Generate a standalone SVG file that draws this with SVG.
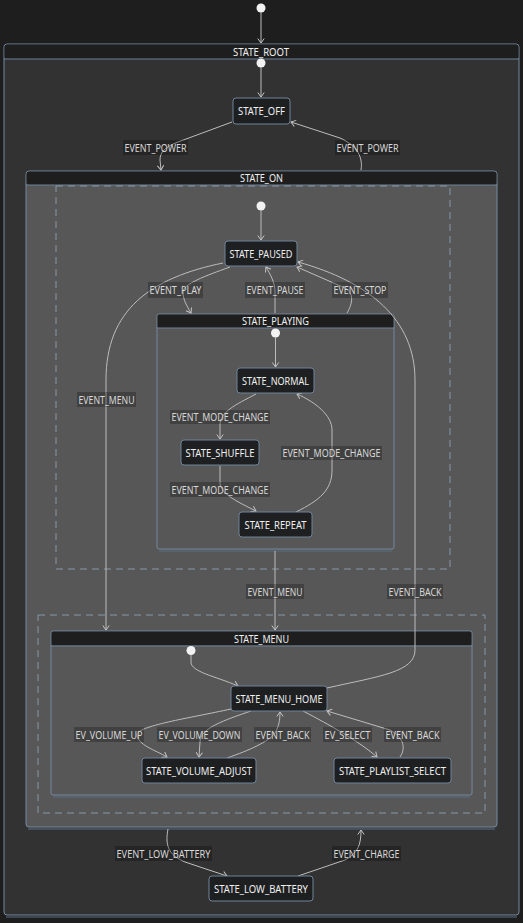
<svg xmlns="http://www.w3.org/2000/svg" width="523" height="923" viewBox="0 0 523 923">
<defs>
<style>
.bg{fill:#1e1e1e}
.cbody{stroke:#7489a0;stroke-width:1}
.root{fill:#323232}
.inner{fill:#575757}
.hdr{fill:#1e1e1e}
.hline{stroke:#6d8299;stroke-width:1}
.shadow{stroke:#5a6e84;stroke-width:1;fill:none}
.region{fill:none;stroke:#8797a8;stroke-width:1;stroke-dasharray:7,5}
.node{fill:#1e1f21;stroke:#6f8499;stroke-width:1}
.t{font-family:"Noto Sans","Open Sans","DejaVu Sans",sans-serif;font-size:10px;text-anchor:middle;dominant-baseline:central}
.nt{fill:#f0f0f0}
.lt{fill:#d8d8d8}
.lb{fill:#000;fill-opacity:0.25}
.e{fill:none;stroke:#bdbdbd;stroke-width:1}
.e2{fill:none;stroke:#bdbdbd;stroke-width:1;marker-end:url(#arr)}
.dot{fill:#f2f2f2}
</style>
<marker id="arr" viewBox="-5 -4 6 8" refX="0" refY="0" markerWidth="6" markerHeight="8" markerUnits="userSpaceOnUse" orient="auto">
<path d="M-4.5,-3.2 L0,0 L-4.5,3.2" fill="none" stroke="#c4c4c4" stroke-width="1"/>
</marker>
</defs>
<rect class="bg" x="0" y="0" width="523" height="923"/>

<g id="STATE_ROOT">
<rect class="root cbody" x="4" y="44" width="515" height="871" rx="3"/>
<line class="shadow" x1="6" y1="917" x2="517" y2="917"/>
<rect class="hdr" x="4.5" y="44.5" width="514" height="14.5" rx="2.5"/>
<line class="hline" x1="4" y1="59" x2="519" y2="59"/>
<text class="t nt" x="261" y="51.5" textLength="56" lengthAdjust="spacingAndGlyphs">STATE_ROOT</text>
</g>

<g id="STATE_ON">
<rect class="inner cbody" x="26" y="171" width="471" height="656" rx="3"/>
<line class="shadow" x1="28" y1="829" x2="495" y2="829"/>
<rect class="hdr" x="26.5" y="171.5" width="470" height="13.5" rx="2.5"/>
<line class="hline" x1="26" y1="185" x2="497" y2="185"/>
<text class="t nt" x="261.5" y="178" textLength="43" lengthAdjust="spacingAndGlyphs">STATE_ON</text>
</g>

<g id="REGION_1">
<rect class="region" x="56" y="186" width="394" height="383"/>
</g>
<g id="REGION_2">
<rect class="region" x="38" y="615" width="447" height="198"/>
</g>

<g id="STATE_PLAYING">
<rect class="inner cbody" x="157" y="314" width="237" height="235" rx="2"/>
<line class="shadow" x1="159" y1="551" x2="392" y2="551"/>
<rect class="hdr" x="157.5" y="314.5" width="236" height="13.5" rx="1.5"/>
<line class="hline" x1="157" y1="328" x2="394" y2="328"/>
<text class="t nt" x="275.5" y="321" textLength="67" lengthAdjust="spacingAndGlyphs">STATE_PLAYING</text>
</g>

<g id="STATE_MENU">
<rect class="inner cbody" x="51" y="631" width="421" height="164" rx="2"/>
<line class="shadow" x1="53" y1="797" x2="470" y2="797"/>
<rect class="hdr" x="51.5" y="631.5" width="420" height="14" rx="1.5"/>
<line class="hline" x1="51" y1="646" x2="472" y2="646"/>
<text class="t nt" x="261.5" y="638.5" textLength="55" lengthAdjust="spacingAndGlyphs">STATE_MENU</text>
</g>

<g id="connectors">
<circle class="dot" cx="261" cy="8" r="4.5"/>
<path class="e2" d="M261,12 L261,43"/>
<circle class="dot" cx="261" cy="63" r="4.5"/>
<path class="e2" d="M261,67 L261,97"/>
<path class="e2" d="M232,122 L178,142 C165,147 160,152 160,160 L161,170"/>
<path class="e2" d="M361,170 C363,158 358,146 340,138 L291,122"/>
<circle class="dot" cx="261" cy="206" r="4.5"/>
<path class="e2" d="M261,210 L261,240"/>
<path class="e2" d="M230,267 C205,276 183,284 183,292 C183,300 187,306 191,313"/>
<path class="e2" d="M275,313 L275,292 C275,282 270,274 266,267"/>
<path class="e2" d="M347,313 C353,303 354,293 345,288 L297,267"/>
<path class="e2" d="M223,263 C150,278 106,310 106,380 L106,630"/>
<path class="e2" d="M327,688 C380,676 415,672 415,650 L415,380 C415,320 370,282 298,262"/>
<path class="e2" d="M275,551 L275,630"/>
<circle class="dot" cx="275.5" cy="333" r="4.5"/>
<path class="e2" d="M275.5,337 L275.5,367"/>
<path class="e2" d="M256,394 C235,405 220,412 220,425 L220,439"/>
<path class="e2" d="M220,466 L220,484 C222,495 240,503 256,511"/>
<path class="e2" d="M296,512 C320,500 332,490 332,470 L332,430 C332,415 315,402 297,394"/>
<circle class="dot" cx="191" cy="650.5" r="4.5"/>
<path class="e2" d="M191,655 L191,662 C191,672 215,676 238,686"/>
<path class="e2" d="M231,709 C190,718 136,726 137,735 C138,745 155,750 167,757"/>
<path class="e2" d="M251,711 C225,720 200,728 200,742 L199,757"/>
<path class="e2" d="M227,758 C250,750 268,742 275,733 C279,726 280,720 280,712"/>
<path class="e2" d="M303,711 C330,725 360,742 377,757"/>
<path class="e2" d="M400,757 C406,748 404,738 390,730 L327,711"/>
<path class="e2" d="M168,829 C165,845 168,855 185,862 L227,876"/>
<path class="e2" d="M298,876 L345,860 C358,853 361,845 361,830"/>

<rect class="lb" x="123" y="140" width="65" height="15"/>
<text class="t lt" x="155.5" y="147.5" textLength="62" lengthAdjust="spacingAndGlyphs">EVENT_POWER</text>
<rect class="lb" x="335" y="140" width="65" height="15"/>
<text class="t lt" x="367.5" y="147.5" textLength="62" lengthAdjust="spacingAndGlyphs">EVENT_POWER</text>
<rect class="lb" x="148" y="282" width="55" height="16"/>
<text class="t lt" x="175.5" y="290" textLength="52" lengthAdjust="spacingAndGlyphs">EVENT_PLAY</text>
<rect class="lb" x="245" y="282" width="60" height="16"/>
<text class="t lt" x="275" y="290" textLength="57" lengthAdjust="spacingAndGlyphs">EVENT_PAUSE</text>
<rect class="lb" x="332" y="282" width="56" height="16"/>
<text class="t lt" x="360" y="290" textLength="53" lengthAdjust="spacingAndGlyphs">EVENT_STOP</text>
<rect class="lb" x="77" y="392" width="59" height="15"/>
<text class="t lt" x="106.5" y="399.5" textLength="56" lengthAdjust="spacingAndGlyphs">EVENT_MENU</text>
<rect class="lb" x="170" y="410" width="100" height="14"/>
<text class="t lt" x="220" y="417" textLength="97" lengthAdjust="spacingAndGlyphs">EVENT_MODE_CHANGE</text>
<rect class="lb" x="281" y="446" width="101" height="14"/>
<text class="t lt" x="331.5" y="453" textLength="98" lengthAdjust="spacingAndGlyphs">EVENT_MODE_CHANGE</text>
<rect class="lb" x="170" y="482" width="100" height="15"/>
<text class="t lt" x="220" y="489.5" textLength="97" lengthAdjust="spacingAndGlyphs">EVENT_MODE_CHANGE</text>
<rect class="lb" x="246" y="584" width="58" height="15"/>
<text class="t lt" x="275" y="591.5" textLength="55" lengthAdjust="spacingAndGlyphs">EVENT_MENU</text>
<rect class="lb" x="387" y="584" width="56" height="15"/>
<text class="t lt" x="415" y="591.5" textLength="53" lengthAdjust="spacingAndGlyphs">EVENT_BACK</text>
<rect class="lb" x="74" y="727" width="70" height="15"/>
<text class="t lt" x="109" y="734.5" textLength="67" lengthAdjust="spacingAndGlyphs">EV_VOLUME_UP</text>
<rect class="lb" x="157" y="727" width="85" height="15"/>
<text class="t lt" x="199.5" y="734.5" textLength="82" lengthAdjust="spacingAndGlyphs">EV_VOLUME_DOWN</text>
<rect class="lb" x="254" y="727" width="57" height="15"/>
<text class="t lt" x="282.5" y="734.5" textLength="54" lengthAdjust="spacingAndGlyphs">EVENT_BACK</text>
<rect class="lb" x="323" y="727" width="49" height="15"/>
<text class="t lt" x="347.5" y="734.5" textLength="46" lengthAdjust="spacingAndGlyphs">EV_SELECT</text>
<rect class="lb" x="384" y="727" width="57" height="15"/>
<text class="t lt" x="412.5" y="734.5" textLength="54" lengthAdjust="spacingAndGlyphs">EVENT_BACK</text>
<rect class="lb" x="115" y="846" width="97" height="15"/>
<text class="t lt" x="163.5" y="853.5" textLength="94" lengthAdjust="spacingAndGlyphs">EVENT_LOW_BATTERY</text>
<rect class="lb" x="332" y="846" width="69" height="15"/>
<text class="t lt" x="366.5" y="853.5" textLength="66" lengthAdjust="spacingAndGlyphs">EVENT_CHARGE</text>
</g>

<g id="STATE_OFF">
<rect class="node" x="233" y="98" width="57" height="26" rx="3"/>
<text class="t nt" x="261.5" y="111" textLength="47" lengthAdjust="spacingAndGlyphs">STATE_OFF</text>
</g>
<g id="STATE_PAUSED">
<rect class="node" x="225" y="241" width="72" height="25" rx="3"/>
<text class="t nt" x="261" y="253.5" textLength="63" lengthAdjust="spacingAndGlyphs">STATE_PAUSED</text>
</g>
<g id="STATE_NORMAL">
<rect class="node" x="237" y="368" width="77" height="25" rx="3"/>
<text class="t nt" x="275.5" y="380.5" textLength="67" lengthAdjust="spacingAndGlyphs">STATE_NORMAL</text>
</g>
<g id="STATE_SHUFFLE">
<rect class="node" x="181" y="440" width="78" height="25" rx="3"/>
<text class="t nt" x="220" y="452.5" textLength="69" lengthAdjust="spacingAndGlyphs">STATE_SHUFFLE</text>
</g>
<g id="STATE_REPEAT">
<rect class="node" x="239" y="512" width="73" height="25" rx="3"/>
<text class="t nt" x="275.5" y="524.5" textLength="62" lengthAdjust="spacingAndGlyphs">STATE_REPEAT</text>
</g>
<g id="STATE_MENU_HOME">
<rect class="node" x="231" y="686" width="96" height="25" rx="3"/>
<text class="t nt" x="279" y="698.5" textLength="87" lengthAdjust="spacingAndGlyphs">STATE_MENU_HOME</text>
</g>
<g id="STATE_VOLUME_ADJUST">
<rect class="node" x="142" y="758" width="114" height="25" rx="3"/>
<text class="t nt" x="199" y="770.5" textLength="106" lengthAdjust="spacingAndGlyphs">STATE_VOLUME_ADJUST</text>
</g>
<g id="STATE_PLAYLIST_SELECT">
<rect class="node" x="334" y="758" width="117" height="25" rx="3"/>
<text class="t nt" x="392.5" y="770.5" textLength="107" lengthAdjust="spacingAndGlyphs">STATE_PLAYLIST_SELECT</text>
</g>
<g id="STATE_LOW_BATTERY">
<rect class="node" x="209" y="876" width="104" height="25" rx="3"/>
<text class="t nt" x="261" y="888.5" textLength="94" lengthAdjust="spacingAndGlyphs">STATE_LOW_BATTERY</text>
</g>
</svg>
